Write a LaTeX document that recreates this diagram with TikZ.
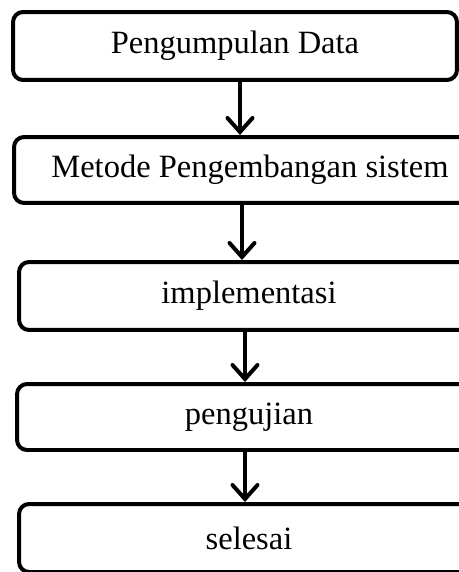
\documentclass[tikz,border=0pt]{standalone}
\usepackage{fontspec}
\setmainfont{Liberation Serif}
\usepackage{tikz}
\usetikzlibrary{arrows.meta,positioning,calc}

\begin{document}
\begin{tikzpicture}[
  x=0.02cm, y=-0.02cm,
  every node/.style={font=\fontsize{18.5}{22}\selectfont},
  tahap/.style={rectangle, draw=black, line width=0.08cm, rounded corners=0.2cm,
                minimum height=1.34cm, inner sep=0pt, text centered},
  alur/.style={draw=black, line width=0.08cm,
               -{Straight Barb[length=0.28cm, width=0.5cm, line cap=round]}}
]
% batas gambar
\useasboundingbox (0,0) rectangle (459,572);
\clip (0,0) rectangle (459,572);

% tahapan penelitian
\node[tahap, minimum width=8.88cm, minimum height=1.36cm] (kumpul) at (235,46) {Pengumpulan Data};
\node[tahap, minimum width=9.44cm, minimum height=1.32cm] (metode) at (250,170) {Metode Pengembangan sistem};
\node[tahap, minimum width=9.20cm, minimum height=1.36cm] (implem) at (249,296) {implementasi};
\node[tahap, minimum width=9.28cm, minimum height=1.32cm] (uji) at (249,417) {pengujian};
\node[tahap, minimum width=9.20cm, minimum height=1.36cm] (selesai) at (249,538) {selesai};

% panah alur
\draw[alur] (kumpul.south -| 240,0) -- (metode.north -| 240,0);
\draw[alur] (metode.south -| 242,0) -- (implem.north -| 242,0);
\draw[alur] (implem.south -| 245,0) -- (uji.north -| 245,0);
\draw[alur] (uji.south -| 245,0) -- (selesai.north -| 245,0);
\end{tikzpicture}
\end{document}
